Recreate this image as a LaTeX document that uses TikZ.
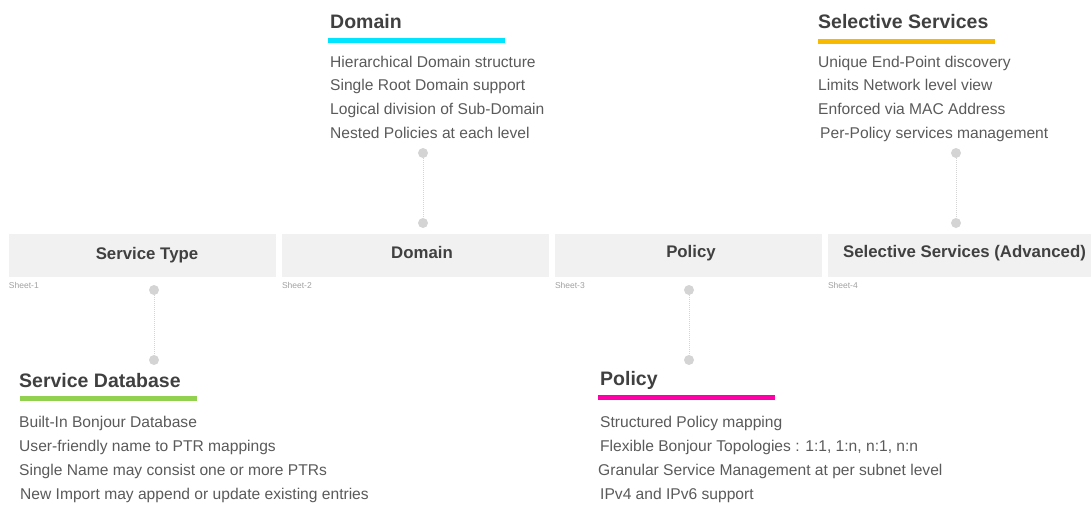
\documentclass[tikz,border=0pt]{standalone}
\usepackage{fontspec}
\setmainfont{Liberation Sans}
\usetikzlibrary{positioning}
\definecolor{tabbg}{HTML}{F1F1F1}
\definecolor{tabtxt}{HTML}{404040}
\definecolor{bodytxt}{HTML}{5A5A5A}
\definecolor{sheettxt}{HTML}{A0A0A0}
\definecolor{dotgray}{HTML}{D4D4D4}
\definecolor{barcyan}{HTML}{00E5FF}
\definecolor{barorange}{HTML}{F7BA00}
\definecolor{bargreen}{HTML}{92D050}
\definecolor{barpink}{HTML}{FF00A8}
\tikzset{
  tab/.style={rectangle, fill=tabbg, minimum width=267pt, minimum height=43pt,
    inner sep=0pt, text height=12pt, text depth=3.5pt,
    font=\fontsize{16.8}{18}\selectfont\bfseries, text=tabtxt},
  sheet/.style={inner sep=0pt, font=\fontsize{8.5}{9}\selectfont, text=sheettxt},
  head/.style={anchor=base west, inner sep=0pt,
    font=\fontsize{19.5}{21}\selectfont\bfseries, text=tabtxt},
  bar/.style={rectangle, anchor=west, inner sep=0pt, minimum width=177pt,
    minimum height=5pt},
  body/.style={anchor=north west, inner sep=0pt, align=left,
    font=\fontsize{15.6}{23.7}\selectfont, text=bodytxt},
  lowbody/.style={body, font=\fontsize{15.6}{24.3}\selectfont},
  dot/.style={circle, fill=dotgray, inner sep=0pt, minimum size=10pt},
  link/.style={dotgray, densely dotted, line width=1pt},
}
\begin{document}
\begin{tikzpicture}[x=1pt, y=-1pt]
\useasboundingbox (0,0) rectangle (1091,504);

% ---- sheets ----
\node[tab] (tab1) at (142.5,255.5) {\hspace{9pt}Service Type};
\node[tab] (tab2) at (415.5,255.5) {\hspace{13pt}\raisebox{1pt}{Domain}};
\node[tab] (tab3) at (688.5,255.5) {\hspace{5pt}\raisebox{2pt}{Policy}};
\node[tab, minimum width=263pt] (tab4) at (959.5,255.5) {\hspace{10pt}\raisebox{2pt}{Selective Services (Advanced)}};
\foreach \i in {1,...,4}{
  \node[sheet, below right=5pt and 0pt of tab\i.south west] (sh\i) {Sheet-\i};
}

% ---- Domain ----
\node[head] (dhead) at (330,28) {Domain};
\node[bar, fill=barcyan] (dbar) at (328,40.5) {};
\node[body] (dbody) at (330,55.5) {
  Hierarchical Domain structure\\
  Single Root Domain support\\
  Logical division of Sub-Domain\\
  Nested Policies at each level
};

% ---- Selective Services ----
\node[head] (shead) at (818,28) {Selective Services};
\node[bar, fill=barorange] (sbar) at (818,41) {};
\node[body] (sbody) at (818,55.5) {
  Unique End-Point discovery\\
  Limits Network level view\\
  Enforced via MAC Address\\
  \hspace{2pt}Per-Policy services management
};

% ---- Service Database ----
\node[head] (bhead) at (19,387) {Service Database};
\node[bar, fill=bargreen] (bbar) at (20,398) {};
\node[lowbody] (bbody) at (19,415.5) {
  Built-In Bonjour Database\\
  User-friendly name to PTR mappings\\
  Single Name may consist one or more PTRs\\
  \hspace{1pt}New Import may append or update existing entries
};

% ---- Policy ----
\node[head] (phead) at (600,385) {Policy};
\node[bar, fill=barpink] (pbar) at (598,397) {};
\node[lowbody] (pbody) at (600,415.5) {
  Structured Policy mapping\\
  Flexible Bonjour Topologies : 1:1, 1:n, n:1, n:n\\
  \hspace{-2pt}Granular Service Management at per subnet level\\
  IPv4 and IPv6 support
};

% ---- connectors ----
\node[dot] (dtop) at (423,153) {};
\node[dot] (dbot) at (423,223) {};
\node[dot] (stop) at (956,153) {};
\node[dot] (sbot) at (956,223) {};
\node[dot] (btop) at (154,290) {};
\node[dot] (bbot) at (154,360) {};
\node[dot] (ptop) at (689,290) {};
\node[dot] (pbot) at (689,360) {};
\draw[link] (dtop) -- (dbot);
\draw[link] (stop) -- (sbot);
\draw[link] (btop) -- (bbot);
\draw[link] (ptop) -- (pbot);

\end{tikzpicture}
\end{document}
